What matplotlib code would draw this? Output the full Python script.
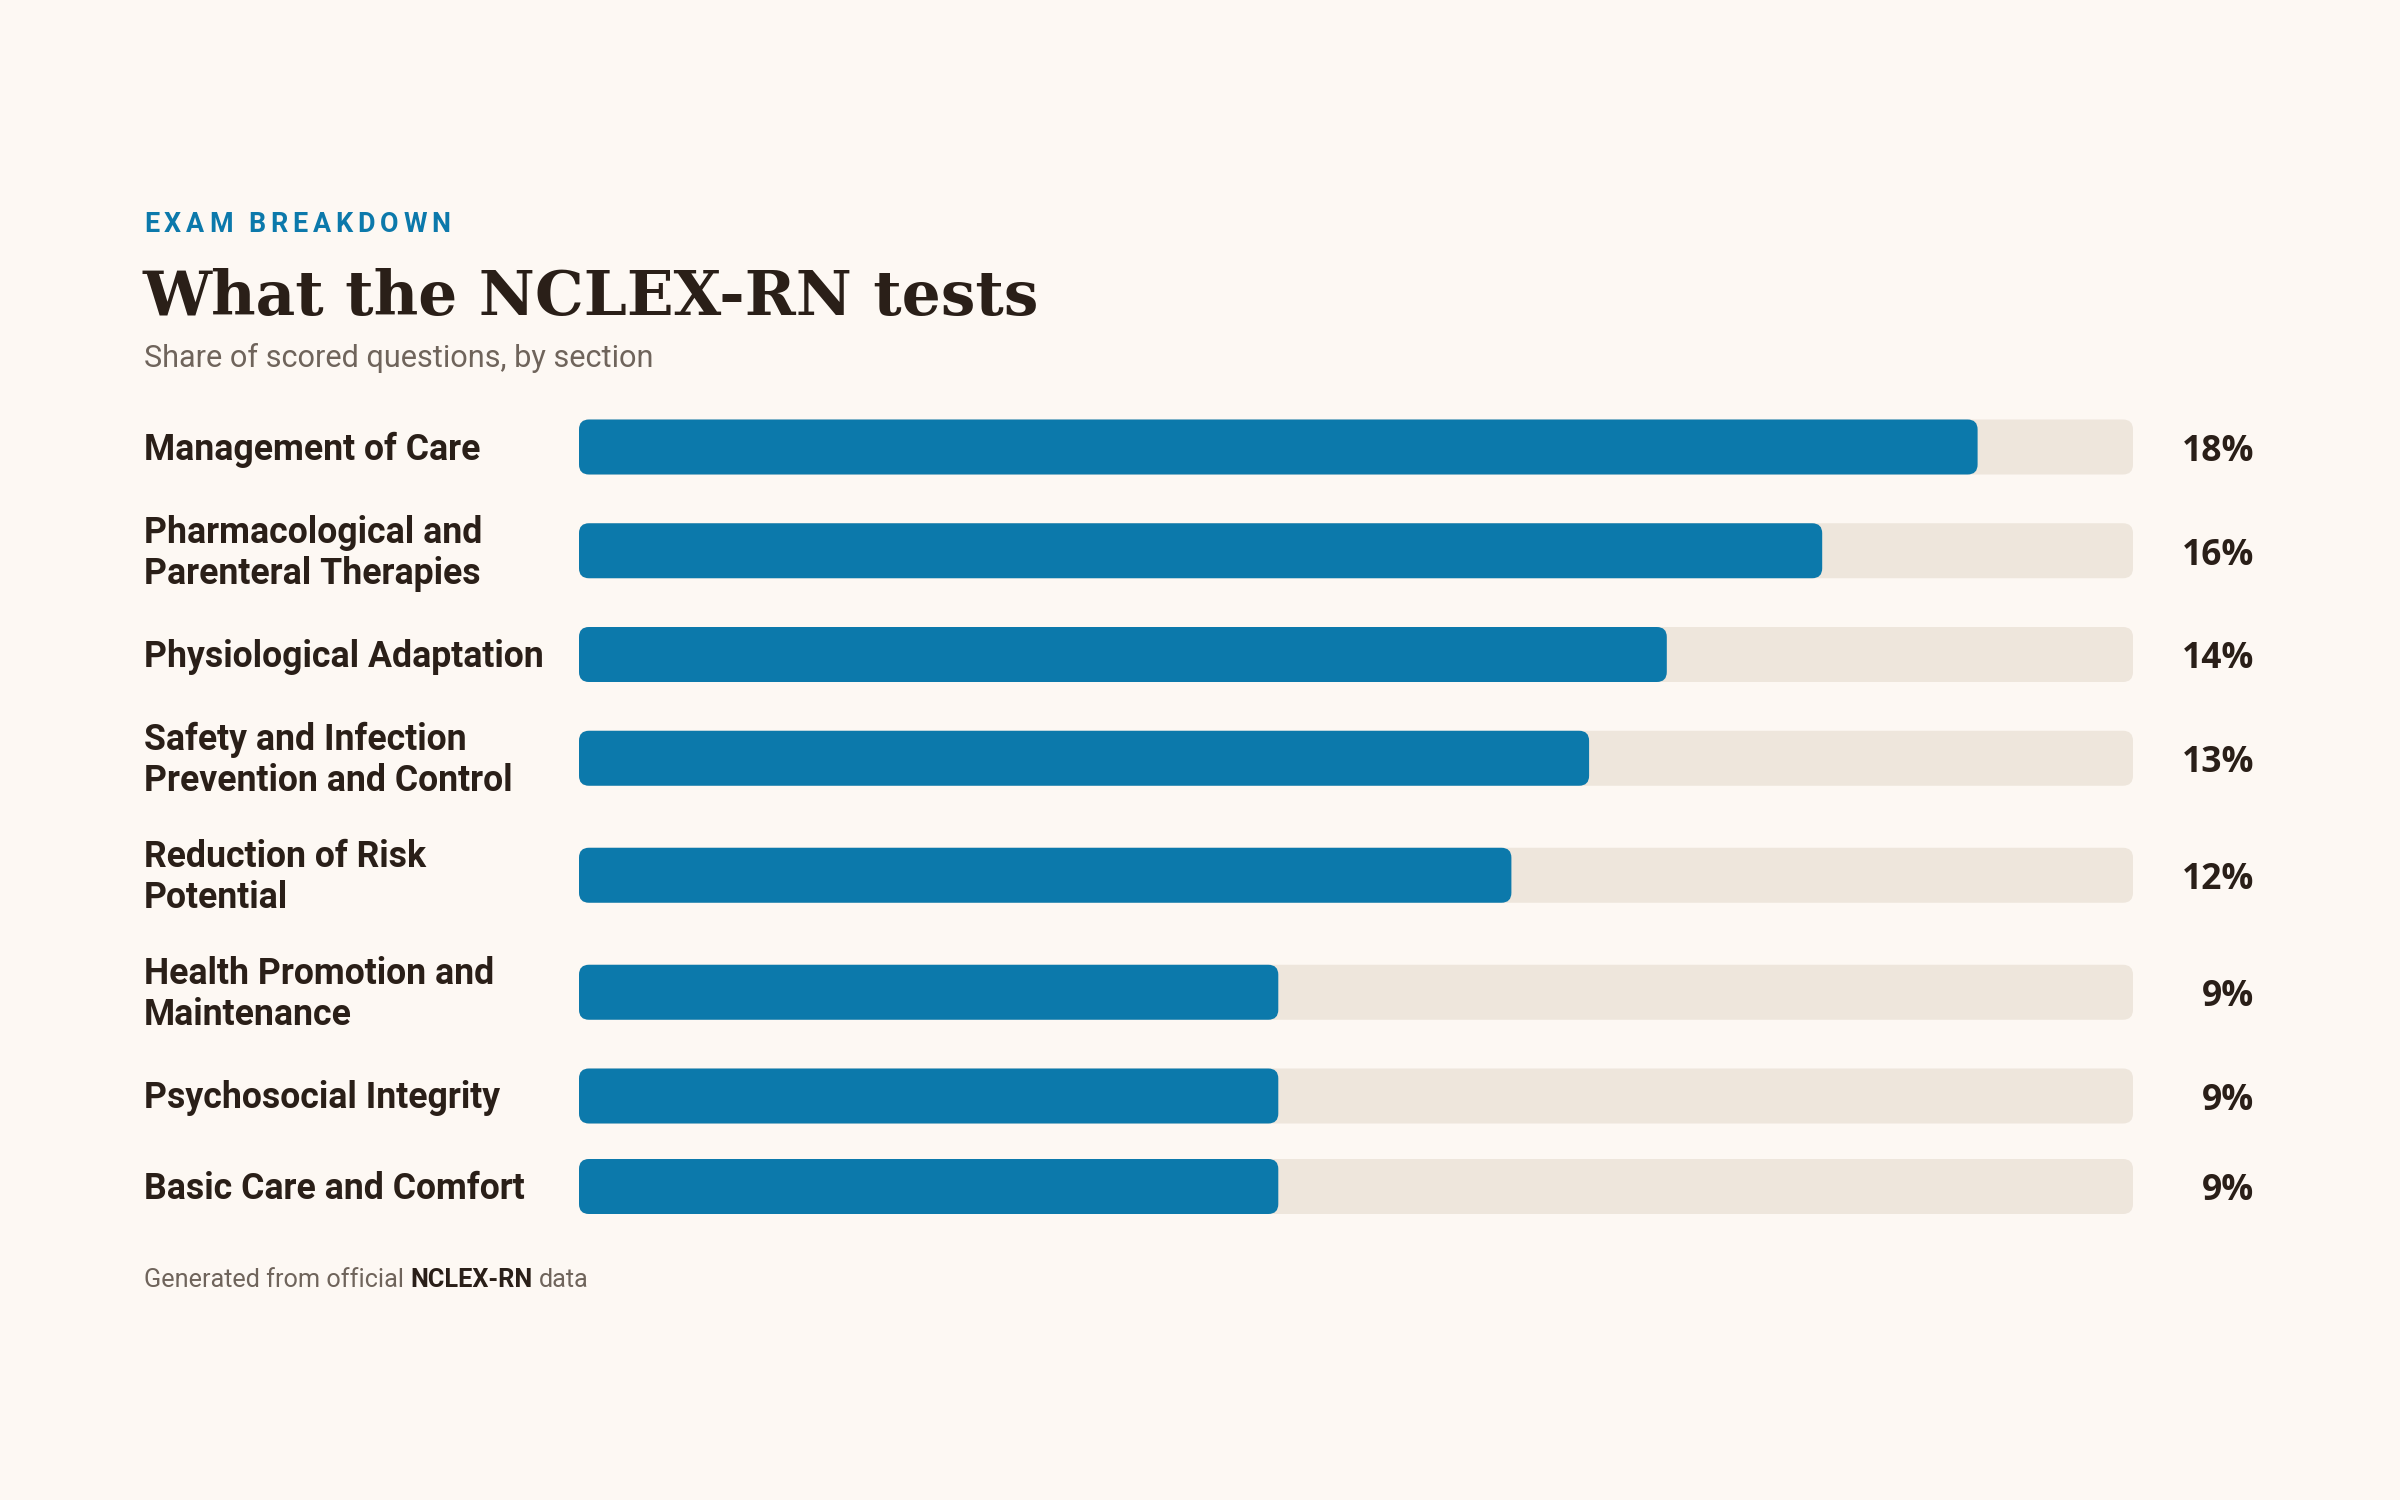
import matplotlib
matplotlib.use("Agg")
import matplotlib.pyplot as plt
from matplotlib.patches import FancyBboxPatch
from matplotlib.font_manager import FontProperties

# data
categories = [
    "Management of Care",
    "Pharmacological and\nParenteral Therapies",
    "Physiological Adaptation",
    "Safety and Infection\nPrevention and Control",
    "Reduction of Risk\nPotential",
    "Health Promotion and\nMaintenance",
    "Psychosocial Integrity",
    "Basic Care and Comfort",
]
shares = [18, 16, 14, 13, 12, 9, 9, 9]
scale_max = 20

eyebrow = "EXAM BREAKDOWN"
title = "What the NCLEX-RN tests"
subtitle = "Share of scored questions, by section"
footer = [("Generated from official ", "normal"), ("NCLEX-RN", "bold"), (" data", "normal")]

# colours
BG = "#fdf8f3"
TRACK = "#eee6dc"
BLUE = "#0c79ab"
INK = "#2a1f18"
GREY = "#6f645b"

W, H = 2400, 1500
fig = plt.figure(figsize=(24, 15), dpi=100, facecolor=BG)

# text layer in pixel units (y downwards)
tax = fig.add_axes([0, 0, 1, 1])
tax.set_xlim(0, W)
tax.set_ylim(H, 0)
tax.axis("off")

# bar layer: x in data units, y in pixels
L, R = 579, 2133
bax = fig.add_axes([L / W, 0, (R - L) / W, 1])
bax.set_xlim(0, scale_max)
bax.set_ylim(H, 0)
bax.axis("off")

renderer = fig.canvas.get_renderer()


def text_w(s, fp):
    w, h, d = renderer.get_text_width_height_descent(s, fp, ismath=False)
    return w


def spaced_text(x, y, s, fp, color, spacing):
    for i, ch in enumerate(s):
        xi = x + text_w(s[:i], fp) + i * spacing if i else x
        tax.text(xi, y, ch, fontproperties=fp, color=color, va="baseline", ha="left")


LEFT = 144

# header
eb_font = FontProperties(family="Roboto", weight="bold", size=19.4)
spaced_text(LEFT, 232, eyebrow, eb_font, BLUE, 4.8)

title_font = FontProperties(family="DejaVu Serif", weight="bold", size=44.2)
tax.text(LEFT - 2, 315, title, fontproperties=title_font, color=INK, va="baseline")

sub_font = FontProperties(family="Roboto", size=22.1)
tax.text(LEFT, 367, subtitle, fontproperties=sub_font, color=GREY, va="baseline")

# rows
bar_h = 55
line_h = 41
gap = 35.5
nlines = [c.count("\n") + 1 for c in categories]
row_h = [max(bar_h, n * 40.75) + gap for n in nlines]
centers = [447]
for i in range(1, len(categories)):
    centers.append(centers[-1] + (row_h[i - 1] + row_h[i]) / 2)

px_x = scale_max / (R - L)
rad = 10
box = f"round,pad=0,rounding_size={rad * px_x}"

lab_font = FontProperties(family="Roboto", weight="bold", size=25.7)
pct_font = FontProperties(family="Open Sans", weight="bold", size=25.5)

for c, lab, v in zip(centers, categories, shares):
    bax.add_patch(FancyBboxPatch((0, c - bar_h / 2), scale_max, bar_h, boxstyle=box,
                                 mutation_aspect=1 / px_x, fc=TRACK, ec="none"))
    bax.add_patch(FancyBboxPatch((0, c - bar_h / 2), v, bar_h, boxstyle=box,
                                 mutation_aspect=1 / px_x, fc=BLUE, ec="none"))
    lines = lab.split("\n")
    n = len(lines)
    for k, line in enumerate(lines):
        y = c + 12.5 + (k - (n - 1) / 2) * line_h
        tax.text(LEFT, y, line, fontproperties=lab_font, color=INK, va="baseline")
    tax.text(2254, c + 14, f"{v}%", fontproperties=pct_font, color=INK,
             ha="right", va="baseline")

# footer
x = LEFT
fsize = 18.2
sp = text_w("a a", FontProperties(family="Roboto", size=fsize)) - text_w("aa", FontProperties(family="Roboto", size=fsize))
for part, wt in footer:
    fp = FontProperties(family="Roboto", weight=wt, size=fsize)
    col = INK if wt == "bold" else GREY
    lead = len(part) - len(part.lstrip(" "))
    x += lead * sp
    core = part.strip(" ")
    tax.text(x, 1287, core, fontproperties=fp, color=col, va="baseline")
    x += text_w(core, fp)
    x += (len(part) - len(part.rstrip(" "))) * sp

fig.savefig("out.png", dpi=100, facecolor=BG)
